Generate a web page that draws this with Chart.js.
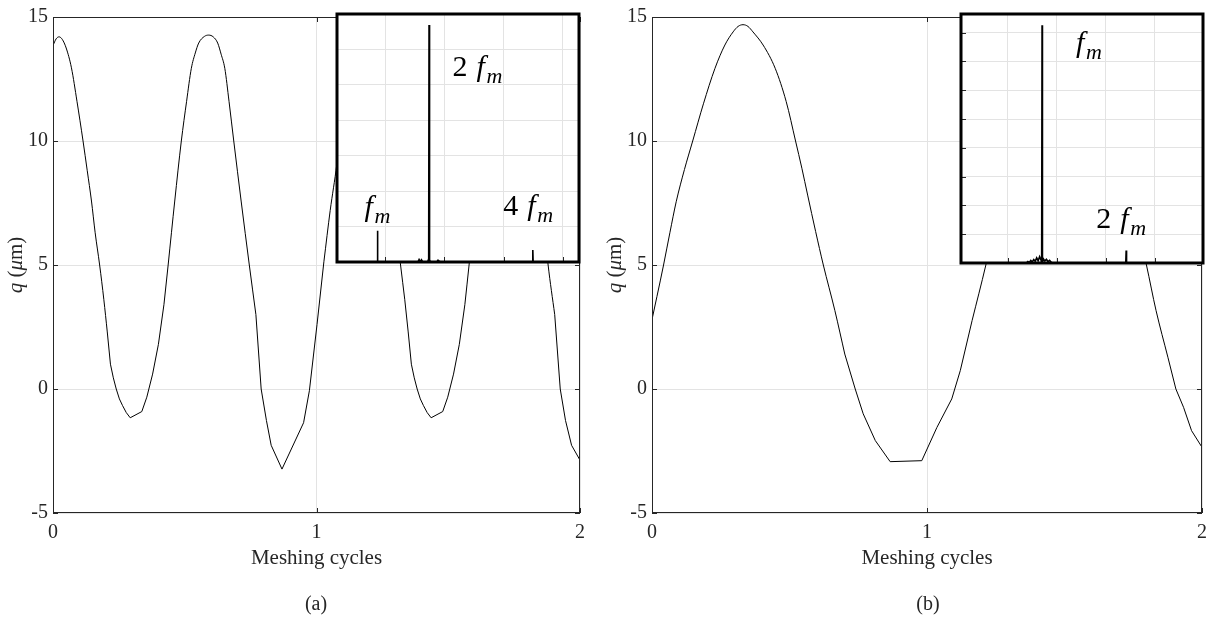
<!DOCTYPE html>
<html lang="en">
<head>
<meta charset="UTF-8" />
<title>Dynamic mesh deflection</title>
<script src="https://cdn.jsdelivr.net/npm/chart.js"></script>
<style>
  body { margin: 0; background: #fff; width: 1215px; height: 618px; position: relative; overflow: hidden; }
  canvas { position: absolute; }
  .cap { position: absolute; top: 592px; font: 20px "Liberation Serif", serif; color: #262626; transform: translateX(-50%); }
</style>
</head>
<body>
<canvas id="mainA" width="600" height="618" style="left:0;top:0"></canvas>
<canvas id="mainB" width="615" height="618" style="left:600px;top:0"></canvas>
<canvas id="specA" width="250" height="256" style="left:333px;top:10px"></canvas>
<canvas id="specB" width="250" height="257" style="left:957px;top:10px"></canvas>
<div class="cap" style="left:316px">(a)</div>
<div class="cap" style="left:928px">(b)</div>

<script>
// axis ticks
const cycleTicks = [0, 1, 2];
const qTicks = [-5, 0, 5, 10, 15];

// (a) deflection q over two meshing cycles
const cycA = [0.000, 0.012, 0.023, 0.035, 0.050, 0.070, 0.091, 0.114, 0.130, 0.146, 0.160, 0.177, 0.193, 0.206, 0.218, 0.229, 0.240, 0.252, 0.264, 0.278,
  0.293, 0.337, 0.356, 0.378, 0.400, 0.421, 0.437, 0.462, 0.487, 0.507, 0.525, 0.540, 0.553, 0.575, 0.591, 0.608, 0.625, 0.638, 0.652, 0.668,
  0.686, 0.714, 0.745, 0.770, 0.790, 0.810, 0.828, 0.869, 0.951, 0.973, 1.002, 1.028, 1.052, 1.077, 1.100, 1.125, 1.145, 1.165, 1.180, 1.193,
  1.212, 1.233, 1.256, 1.288, 1.319, 1.335, 1.348, 1.360, 1.371, 1.382, 1.394, 1.406, 1.420, 1.435, 1.479, 1.498, 1.520, 1.542, 1.563, 1.579,
  1.604, 1.629, 1.649, 1.667, 1.682, 1.695, 1.717, 1.733, 1.750, 1.767, 1.780, 1.794, 1.810, 1.828, 1.854, 1.879, 1.904, 1.925, 1.945, 1.968, 2.000];
const qA = [13.85, 14.12, 14.20, 14.10, 13.75, 12.95, 11.60, 10.00, 8.80, 7.58, 6.30, 5.00, 3.60, 2.30, 1.00, 0.45, 0.00, -0.40, -0.67, -0.95,
  -1.16, -0.91, -0.33, 0.60, 1.80, 3.40, 5.00, 7.58, 10.00, 11.60, 12.93, 13.55, 13.95, 14.22, 14.27, 14.20, 13.95, 13.50, 12.93, 11.60,
  10.00, 7.58, 5.00, 3.00, 0.00, -1.27, -2.27, -3.23, -1.36, -0.07, 2.60, 5.13, 7.20, 9.06, 11.30, 13.00, 13.95, 14.20, 14.10, 13.80,
  12.95, 11.60, 10.00, 7.58, 5.00, 3.60, 2.30, 1.00, 0.45, 0.00, -0.40, -0.67, -0.95, -1.16, -0.91, -0.33, 0.60, 1.80, 3.40, 5.00,
  7.58, 10.00, 11.60, 12.93, 13.55, 13.95, 14.22, 14.27, 14.20, 13.95, 13.50, 12.93, 11.60, 10.00, 7.58, 5.00, 3.00, 0.00, -1.27, -2.27, -2.87];
// stretches of (a) drawn as plain polylines (sampled troughs)
const troughsA = [[0.20, 0.43], [0.77, 1.03], [1.34, 1.57], [1.90, 2.00]];

// (b) deflection q over two meshing cycles
const cycB = [0.000, 0.018, 0.042, 0.065, 0.088, 0.118, 0.148, 0.187, 0.229, 0.265, 0.295, 0.313, 0.331, 0.349, 0.367, 0.404, 0.448, 0.488, 0.522, 0.545,
  0.566, 0.595, 0.623, 0.665, 0.701, 0.739, 0.768, 0.812, 0.866, 0.981, 1.036, 1.090, 1.121, 1.164, 1.214, 1.240, 1.263, 1.293, 1.323, 1.362,
  1.404, 1.440, 1.470, 1.488, 1.506, 1.524, 1.542, 1.579, 1.623, 1.663, 1.697, 1.720, 1.741, 1.770, 1.798, 1.833, 1.876, 1.905, 1.933, 1.962, 2.000];
const qB = [2.80, 3.73, 5.00, 6.30, 7.55, 8.85, 10.00, 11.50, 12.93, 13.87, 14.40, 14.62, 14.69, 14.62, 14.40, 13.87, 12.93, 11.59, 10.00, 8.90,
  7.82, 6.35, 5.00, 3.16, 1.41, 0.00, -1.00, -2.08, -2.93, -2.89, -1.55, -0.40, 0.74, 2.76, 5.00, 6.30, 7.55, 8.85, 10.00, 11.50,
  12.93, 13.87, 14.40, 14.62, 14.69, 14.62, 14.40, 13.87, 12.93, 11.59, 10.00, 8.90, 7.82, 6.35, 5.00, 3.16, 1.28, 0.00, -0.74, -1.68, -2.35];
const troughsB = [[0.70, 1.17], [1.87, 2.00]];

// amplitude spectra (Hz / amplitude)
const freqA = [93, 433, 435, 437, 776, 786, 796, 806, 816, 858, 863, 866, 868, 870, 872, 874, 877, 882, 936, 946, 956, 966, 1743, 1746, 1749, 2136];
const ampA  = [0, 0, 0.88, 0, 0, 0.07, 0.01, 0.06, 0, 0, 0.05, 0.02, 0, 6.69, 0, 0.03, 0.06, 0, 0, 0.05, 0.02, 0, 0, 0.34, 0, 0];
const freqB = [24, 690, 705, 720, 735, 750, 765, 780, 795, 810, 825, 840, 846, 850, 854, 862, 878, 894, 910, 926, 942, 955, 1703, 1707, 1711, 2490];
const ampB  = [0, 0, 0.05, 0.02, 0.09, 0.04, 0.12, 0.06, 0.18, 0.08, 0.22, 0.1, 0, 8.26, 0, 0.15, 0.07, 0.13, 0.05, 0.09, 0.03, 0, 0, 0.43, 0, 0];
const specTicks = [500, 1000, 1500, 2000];

const serif = '"Liberation Serif", "Times New Roman", serif';
const ink = '#262626';
const gridGray = '#e3e3e3';

const toXY = (xs, ys) => xs.map((x, i) => ({ x, y: ys[i] }));

// split one series into smooth arcs and straight trough pieces sharing end points
function curvePieces(xs, ys, troughs) {
  const inTrough = x => troughs.some(([a, b]) => x >= a && x <= b);
  const out = [];
  let cur = null;
  for (let i = 0; i < xs.length - 1; i++) {
    const sharp = inTrough((xs[i] + xs[i + 1]) / 2);
    if (!cur || cur.sharp !== sharp) {
      cur = { sharp, pts: [{ x: xs[i], y: ys[i] }] };
      out.push(cur);
    }
    cur.pts.push({ x: xs[i + 1], y: ys[i + 1] });
  }
  return out.map(p => ({
    data: p.pts, borderColor: '#000', borderWidth: 1, pointRadius: 0, fill: false,
    tension: p.sharp ? 0 : 0.4, cubicInterpolationMode: p.sharp ? 'default' : 'monotone'
  }));
}

// box with inward ticks on all four sides
const axisFrame = {
  id: 'axisFrame',
  afterDraw(chart) {
    const { ctx, chartArea: a, scales } = chart;
    ctx.save();
    ctx.strokeStyle = ink;
    ctx.lineWidth = 1;
    ctx.strokeRect(a.left + 0.5, a.top + 0.5, a.right - a.left - 1, a.bottom - a.top - 1);
    ctx.beginPath();
    qTicks.forEach(v => {
      const p = Math.round(scales.y.getPixelForValue(v)) + 0.5;
      ctx.moveTo(a.left, p); ctx.lineTo(a.left + 5, p);
      ctx.moveTo(a.right, p); ctx.lineTo(a.right - 5, p);
    });
    cycleTicks.forEach(v => {
      const p = Math.round(scales.x.getPixelForValue(v)) + 0.5;
      ctx.moveTo(p, a.bottom); ctx.lineTo(p, a.bottom - 5);
      ctx.moveTo(p, a.top); ctx.lineTo(p, a.top + 5);
    });
    ctx.stroke();

    // y title: q (μm) with italic symbols
    const parts = [['q', 'italic'], [' (', 'normal'], ['\u03bc', 'italic'], ['m)', 'normal']];
    ctx.translate(a.left - 31, (a.top + a.bottom) / 2);
    ctx.rotate(-Math.PI / 2);
    ctx.fillStyle = ink;
    ctx.textBaseline = 'alphabetic';
    let total = 0;
    parts.forEach(([t, s]) => { ctx.font = `${s} 21px ${serif}`; total += ctx.measureText(t).width; });
    let cx = -total / 2;
    parts.forEach(([t, s]) => {
      ctx.font = `${s} 21px ${serif}`;
      ctx.fillText(t, cx, 0);
      cx += ctx.measureText(t).width;
    });
    ctx.restore();
  }
};

function mainChart(id, xs, ys, troughs, padRight, yWidth) {
  return new Chart(document.getElementById(id), {
    type: 'line',
    data: { datasets: curvePieces(xs, ys, troughs) },
    options: {
      responsive: false, animation: false, devicePixelRatio: 1,
      layout: { padding: { left: 0, right: padRight, top: 15, bottom: 0 } },
      plugins: { legend: { display: false }, tooltip: { enabled: false } },
      scales: {
        x: {
          type: 'linear', min: 0, max: 2,
          afterBuildTicks: s => { s.ticks = cycleTicks.map(v => ({ value: v })); },
          afterFit: s => { s.height = 105; },
          grid: { color: gridGray, drawTicks: false },
          border: { display: false },
          ticks: { padding: 8, color: ink, font: { family: serif, size: 20 } },
          title: { display: true, text: 'Meshing cycles', color: ink, font: { family: serif, size: 21 }, padding: { top: 2, bottom: 47 } }
        },
        y: {
          min: -5, max: 15,
          afterBuildTicks: s => { s.ticks = qTicks.map(v => ({ value: v })); },
          afterFit: s => { s.width = yWidth; },
          grid: { color: gridGray, drawTicks: false },
          border: { display: false },
          ticks: { padding: 5, color: ink, font: { family: serif, size: 20 } }
        }
      }
    },
    plugins: [axisFrame]
  });
}

// white inset with thick frame, inner ticks and peak labels
const insetDecor = {
  id: 'insetDecor',
  beforeDraw(chart) {
    const { ctx, chartArea: a } = chart;
    ctx.save();
    ctx.fillStyle = '#fff';
    ctx.fillRect(a.left, a.top, a.right - a.left, a.bottom - a.top);
    ctx.restore();
  },
  afterDraw(chart, args, opts) {
    const { ctx, chartArea: a, scales } = chart;
    ctx.save();
    ctx.strokeStyle = ink;
    ctx.lineWidth = 1;
    ctx.beginPath();
    specTicks.forEach(v => {
      const p = Math.round(scales.x.getPixelForValue(v)) + 0.5;
      ctx.moveTo(p, a.bottom); ctx.lineTo(p, a.bottom - 5);
    });
    if (opts.leftTicks) {
      for (let v = 1; v <= Math.floor(scales.y.max); v++) {
        const p = Math.round(scales.y.getPixelForValue(v)) + 0.5;
        ctx.moveTo(a.left, p); ctx.lineTo(a.left + 5, p);
      }
    }
    ctx.stroke();
    ctx.strokeStyle = '#000';
    ctx.lineWidth = 3;
    ctx.strokeRect(a.left, a.top, a.right - a.left, a.bottom - a.top);

    ctx.fillStyle = '#000';
    ctx.textBaseline = 'alphabetic';
    opts.labels.forEach(l => {
      let px = scales.x.getPixelForValue(l.f);
      const py = scales.y.getPixelForValue(l.a);
      if (l.pre) {
        ctx.font = `30px ${serif}`;
        ctx.fillText(l.pre, px, py);
        px += 24;
      }
      ctx.font = `italic 30px ${serif}`;
      ctx.fillText('f', px, py);
      ctx.font = `italic 22px ${serif}`;
      ctx.fillText('m', px + 10, py + 7);
    });
    ctx.restore();
  }
};

function spectrumChart(id, fs, amps, fMin, fMax, aMax, labels, leftTicks) {
  return new Chart(document.getElementById(id), {
    type: 'line',
    data: { datasets: [{ data: toXY(fs, amps), borderColor: '#000', borderWidth: 1.6, pointRadius: 0, tension: 0, fill: false }] },
    options: {
      responsive: false, animation: false, devicePixelRatio: 1,
      layout: { padding: 4 },
      plugins: { legend: { display: false }, tooltip: { enabled: false }, insetDecor: { labels, leftTicks } },
      scales: {
        x: {
          type: 'linear', min: fMin, max: fMax,
          afterBuildTicks: s => { s.ticks = specTicks.map(v => ({ value: v })); },
          afterFit: s => { s.height = 0; },
          grid: { color: gridGray, drawTicks: false },
          border: { display: false },
          ticks: { display: false }
        },
        y: {
          min: 0, max: aMax,
          afterBuildTicks: s => {
            const t = [];
            for (let v = 1; v < aMax; v++) t.push({ value: v });
            s.ticks = t;
          },
          afterFit: s => { s.width = 0; },
          grid: { color: gridGray, drawTicks: false },
          border: { display: false },
          ticks: { display: false }
        }
      }
    },
    plugins: [insetDecor]
  });
}

mainChart('mainA', cycA, qA, troughsA, 20, 53);
mainChart('mainB', cycB, qB, troughsB, 11, 52);

spectrumChart('specA', freqA, ampA, 93, 2136, 7,
  [{ pre: '2', f: 1068, a: 5.25 }, { pre: '', f: 326, a: 1.31 }, { pre: '4', f: 1496, a: 1.33 }], false);
spectrumChart('specB', freqB, ampB, 24, 2490, 8.65,
  [{ pre: '', f: 1197, a: 7.33 }, { pre: '2', f: 1401, a: 1.2 }], true);
</script>
</body>
</html>
